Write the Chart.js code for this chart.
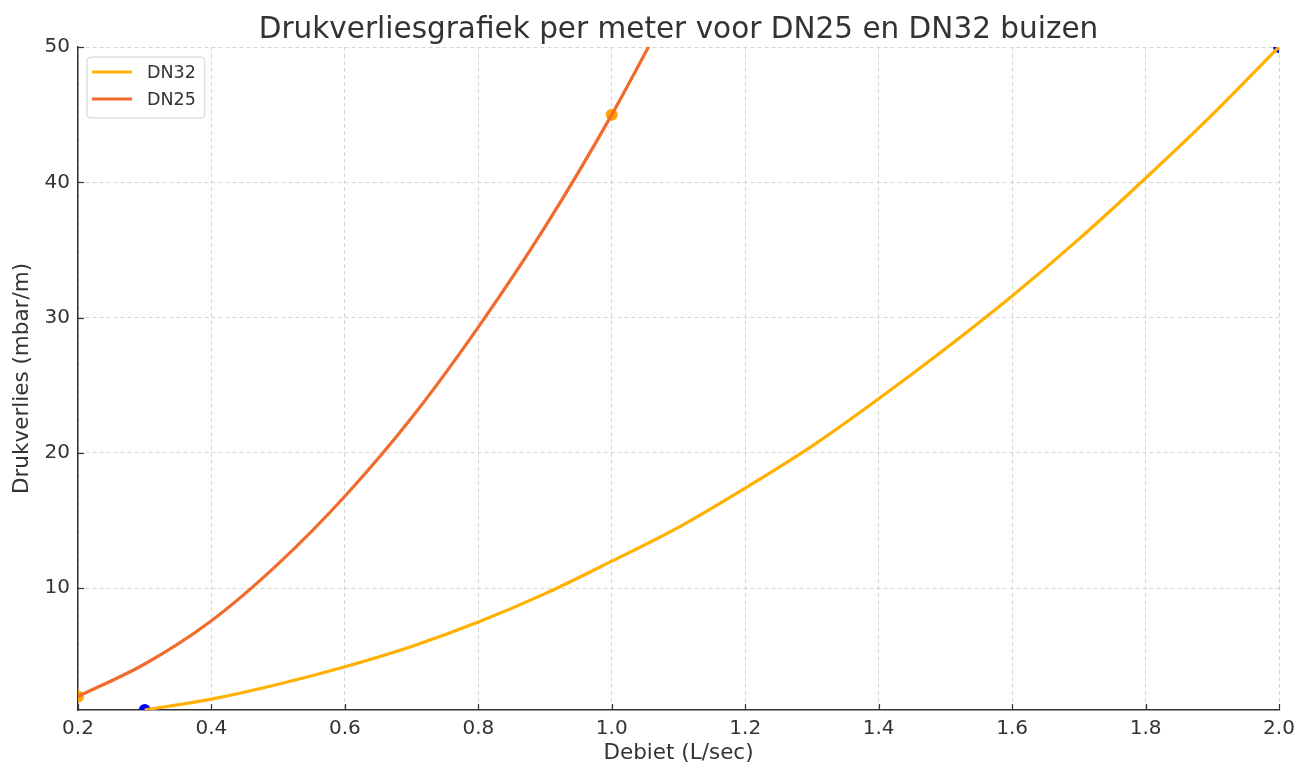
<!DOCTYPE html>
<html>
<head>
<meta charset="utf-8">
<script src="https://cdn.jsdelivr.net/npm/chart.js@4/dist/chart.umd.min.js"></script>
<style>
html,body{margin:0;padding:0;background:#fff;}
#wrap{width:1314px;height:767px;}
</style>
</head>
<body>
<div id="wrap"><canvas id="c" width="1314" height="767"></canvas></div>
<script>
// ---- data ----
const chartTitle = 'Drukverliesgrafiek per meter voor DN25 en DN32 buizen';
const xLabel = 'Debiet (L/sec)';
const yLabel = 'Drukverlies (mbar/m)';
const xTicks = [0.2, 0.4, 0.6, 0.8, 1.0, 1.2, 1.4, 1.6, 1.8, 2.0];
const yTicks = [10, 20, 30, 40, 50];

const dn32Flow = [0.3, 0.4, 0.5, 0.6, 0.7, 0.8, 0.9, 1.0, 1.1, 1.2, 1.3, 1.4, 1.5, 1.6, 1.7, 1.8, 1.9, 2.0];
const dn32Loss = [1.0, 1.8, 2.9, 4.2, 5.7, 7.5, 9.6, 12.0, 14.5, 17.4, 20.5, 24.0, 27.7, 31.6, 35.8, 40.3, 45.0, 50.0];
const dn25Flow = [0.2, 0.3, 0.4, 0.5, 0.6, 0.7, 0.8, 0.9, 1.0, 1.1];
const dn25Loss = [2.0, 4.4, 7.6, 11.8, 16.8, 22.6, 29.3, 36.7, 45.0, 54.2];

const dn32MarkFlow = [0.3, 2.0];
const dn32MarkLoss = [1.0, 50.0];
const dn25MarkFlow = [0.2, 1.0];
const dn25MarkLoss = [2.0, 45.0];

const FONT = "'DejaVu Sans', sans-serif";
const TXT = '#333333';

function pts(xs, ys){ return xs.map((x,i)=>({x:x, y:ys[i]})); }

const titlePlugin = {
  id: 'areaTitle',
  afterDraw(chart){
    const ctx = chart.ctx, a = chart.chartArea;
    ctx.save();
    ctx.font = "29.5px " + FONT;
    ctx.fillStyle = TXT;
    ctx.textAlign = 'center';
    ctx.textBaseline = 'alphabetic';
    ctx.fillText(chartTitle, (a.left + a.right) / 2, 38);
    ctx.restore();
  }
};

const legendPlugin = {
  id: 'insideLegend',
  afterDraw(chart){
    const ctx = chart.ctx, a = chart.chartArea;
    const items = chart.data.datasets.filter(d => d.inLegend);
    ctx.save();
    ctx.font = "17.5px " + FONT;
    let tw = 0;
    items.forEach(d => { tw = Math.max(tw, ctx.measureText(d.label).width); });
    const bx = a.left + 9, by = a.top + 10;
    const bw = 60 + tw + 9, bh = 61;
    const r = 4;
    ctx.beginPath();
    ctx.moveTo(bx + r, by);
    ctx.lineTo(bx + bw - r, by); ctx.quadraticCurveTo(bx + bw, by, bx + bw, by + r);
    ctx.lineTo(bx + bw, by + bh - r); ctx.quadraticCurveTo(bx + bw, by + bh, bx + bw - r, by + bh);
    ctx.lineTo(bx + r, by + bh); ctx.quadraticCurveTo(bx, by + bh, bx, by + bh - r);
    ctx.lineTo(bx, by + r); ctx.quadraticCurveTo(bx, by, bx + r, by);
    ctx.closePath();
    ctx.fillStyle = 'rgba(255,255,255,0.85)';
    ctx.fill();
    ctx.strokeStyle = '#d0d0d0';
    ctx.lineWidth = 1;
    ctx.stroke();
    items.forEach((d, i) => {
      const y = by + 15 + i * 27;
      ctx.beginPath();
      ctx.moveTo(bx + 5, y); ctx.lineTo(bx + 45, y);
      ctx.strokeStyle = d.borderColor; ctx.lineWidth = 3; ctx.stroke();
      ctx.fillStyle = TXT;
      ctx.textAlign = 'left'; ctx.textBaseline = 'middle';
      ctx.fillText(d.label, bx + 60, y + 1);
    });
    ctx.restore();
  }
};

const innerTicksPlugin = {
  id: 'innerTicks',
  afterDraw(chart){
    const ctx = chart.ctx, a = chart.chartArea;
    const xs = chart.scales.x, ys = chart.scales.y;
    ctx.save();
    ctx.strokeStyle = '#333'; ctx.lineWidth = 1.2;
    xs.ticks.forEach(t => {
      const px = Math.round(xs.getPixelForValue(t.value)) + 0.5;
      ctx.beginPath(); ctx.moveTo(px, a.bottom); ctx.lineTo(px, a.bottom - 6); ctx.stroke();
    });
    ys.ticks.forEach(t => {
      const py = Math.round(ys.getPixelForValue(t.value)) + 0.5;
      ctx.beginPath(); ctx.moveTo(a.left, py); ctx.lineTo(a.left + 6, py); ctx.stroke();
    });
    ctx.restore();
  }
};

new Chart(document.getElementById('c'), {
  type: 'line',
  data: {
    datasets: [
      {
        label: 'DN32', inLegend: true,
        data: pts(dn32Flow, dn32Loss),
        borderColor: '#FFB000', backgroundColor: '#FFB000',
        borderWidth: 3.2, pointRadius: 0, cubicInterpolationMode: 'monotone',
        clip: 0, order: 1
      },
      {
        label: 'DN25', inLegend: true,
        data: pts(dn25Flow, dn25Loss),
        borderColor: '#F26B2C', backgroundColor: '#F26B2C',
        borderWidth: 3.2, pointRadius: 0, cubicInterpolationMode: 'monotone',
        clip: 0, order: 2
      },
      {
        label: 'DN25 punten',
        data: pts(dn25MarkFlow, dn25MarkLoss),
        showLine: false, pointRadius: 6, pointBorderWidth: 0,
        pointBackgroundColor: '#FFA500', borderColor: '#FFA500',
        clip: 0, order: 5
      },
      {
        label: 'DN32 punten',
        data: pts(dn32MarkFlow, dn32MarkLoss),
        showLine: false, pointRadius: 6, pointBorderWidth: 0,
        pointBackgroundColor: '#0000FF', borderColor: '#0000FF',
        clip: 0, order: 6
      }
    ]
  },
  options: {
    responsive: false,
    animation: false,
    layout: { padding: { left: 0, right: 35, top: 47, bottom: 0 } },
    plugins: {
      legend: { display: false },
      tooltip: { enabled: false },
      title: { display: false }
    },
    scales: {
      x: {
        type: 'linear', min: 0.2, max: 2.0,
        afterBuildTicks: s => { s.ticks = xTicks.map(v => ({ value: v })); },
        afterFit: s => { s.height = 57; },
        ticks: {
          color: TXT, font: { family: FONT, size: 20 }, padding: 7,
          maxRotation: 0, autoSkip: false,
          callback: v => Number(v).toFixed(1)
        },
        grid: { color: '#d6d6d6', lineWidth: 1, drawTicks: false },
        border: { display: true, color: '#333', width: 1.5, dash: [4, 3] },
        title: {
          display: true, text: xLabel, color: TXT,
          font: { family: FONT, size: 21.5 }, padding: { top: 0, bottom: 1 }
        }
      },
      y: {
        type: 'linear', min: 1, max: 50,
        afterBuildTicks: s => { s.ticks = yTicks.map(v => ({ value: v })); },
        afterFit: s => { s.width = 78; },
        ticks: {
          color: TXT, font: { family: FONT, size: 20 }, padding: 8,
          callback: v => String(v)
        },
        grid: { color: '#d6d6d6', lineWidth: 1, drawTicks: false },
        border: { display: true, color: '#333', width: 1.5, dash: [4, 3] },
        title: {
          display: true, text: yLabel, color: TXT,
          font: { family: FONT, size: 21.5 }, padding: { top: 10, bottom: 0 }
        }
      }
    }
  },
  plugins: [titlePlugin, legendPlugin, innerTicksPlugin]
});
</script>
</body>
</html>
